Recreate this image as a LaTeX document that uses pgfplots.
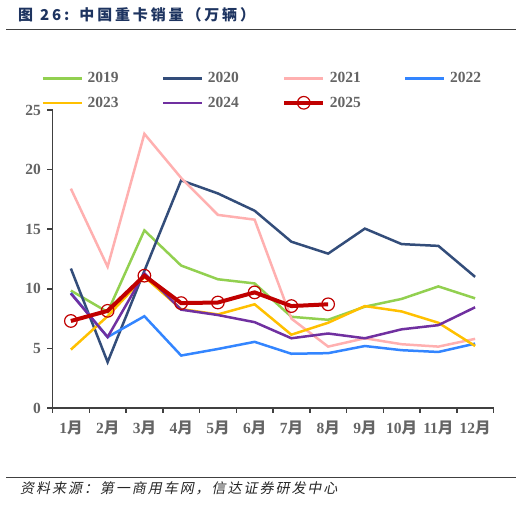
\documentclass[border=0pt]{standalone}
\usepackage{pgfplots}
\pgfplotsset{compat=1.18}
\usepackage{fontspec}
\setmainfont{Liberation Serif}
\newfontfamily\cjk{Noto Sans CJK SC}
\newfontfamily\cjktitle[LetterSpace=19]{Noto Sans CJK SC}
\newfontfamily\cjksrc[FakeSlant=0.2,LetterSpace=14]{Noto Sans CJK SC}
\definecolor{c2019}{RGB}{146,208,80}
\definecolor{c2020}{RGB}{51,77,122}
\definecolor{c2021}{RGB}{255,176,176}
\definecolor{c2022}{RGB}{51,133,255}
\definecolor{c2023}{RGB}{255,192,0}
\definecolor{c2024}{RGB}{112,48,160}
\definecolor{c2025}{RGB}{192,0,0}
\definecolor{titlec}{RGB}{30,52,96}
\definecolor{tickc}{RGB}{100,100,100}
\definecolor{axisc}{RGB}{64,64,64}
\newcommand{\yue}{{\cjk\bfseries 月}}
\begin{document}
\begin{tikzpicture}[x=1pt,y=1pt]
\useasboundingbox (0,0) rectangle (522,505);
% title
\node[anchor=west,inner sep=0pt,text=titlec,font=\fontsize{15}{17}\selectfont] at (18,490) {\cjktitle\bfseries 图\hspace{7pt}26:\hspace{10pt}中国重卡销量（万辆）};
\draw[axisc,line width=1pt] (6,475) -- (516,475);
% source
\draw[axisc,line width=1pt] (6,27.3) -- (516,27.3);
\node[anchor=west,inner sep=0pt,text=black!85,font=\fontsize{14}{16}\selectfont] at (20,17) {\cjksrc 资料来源：第一商用车网，信达证券研发中心};
\begin{axis}[
  at={(52.5pt,97pt)}, anchor=south west,
  scale only axis, width=441pt, height=298pt,
  xmin=0.5, xmax=12.5, ymin=0, ymax=25,
  axis x line*=bottom, axis y line*=left,
  axis line style={axisc,line width=1.5pt,-},
  xtick={1,...,12},
  xticklabels={1\yue,2\yue,3\yue,4\yue,5\yue,6\yue,7\yue,8\yue,9\yue,10\yue,11\yue,12\yue},
  minor xtick={0.5,1.5,...,12.5},
  ytick={0,5,...,25},
  tick align=outside,
  major tick length=5pt, minor tick length=5pt,
  major x tick style={draw=none},
  tick style={axisc,line width=1.5pt},
  /pgf/number format/assume math mode=true,
  tick label style={font=\fontsize{15.5}{17}\selectfont\bfseries, text=tickc},
  yticklabel style={xshift=-3pt},
  xticklabel style={yshift=-4pt},
  legend columns=4,
  legend style={at={(-0.025,1.1259)}, anchor=north west, draw=none, fill=none, inner sep=0pt,
    font=\fontsize{15.5}{17}\selectfont\bfseries, text=tickc,
    nodes={inner sep=0pt, anchor=west},
    row sep=12pt,
    /tikz/every odd column/.style={column sep=4.5pt},
    /tikz/every even column/.style={column sep=43.3pt}},
  legend image code/.code={\draw[mark repeat=2,mark phase=2,#1] plot coordinates {(0pt,0pt) (19.5pt,0pt) (39pt,0pt)};},
  clip=false,
]
\addplot[c2019, line width=2.5pt, mark=none] coordinates {(1,9.85)(2,8.05)(3,14.9)(4,11.95)(5,10.8)(6,10.45)(7,7.65)(8,7.4)(9,8.5)(10,9.15)(11,10.2)(12,9.2)};
\addlegendentry{2019}
\addplot[c2020, line width=2.5pt, mark=none] coordinates {(1,11.7)(2,3.85)(3,11.5)(4,19.1)(5,18.0)(6,16.55)(7,13.95)(8,12.95)(9,15.05)(10,13.75)(11,13.6)(12,11.0)};
\addlegendentry{2020}
\addplot[c2021, line width=2.5pt, mark=none] coordinates {(1,18.4)(2,11.85)(3,23.0)(4,19.3)(5,16.2)(6,15.8)(7,7.5)(8,5.15)(9,5.85)(10,5.35)(11,5.15)(12,5.8)};
\addlegendentry{2021}
\addplot[c2022, line width=2.5pt, mark=none] coordinates {(1,9.65)(2,5.95)(3,7.7)(4,4.4)(5,4.95)(6,5.55)(7,4.55)(8,4.6)(9,5.2)(10,4.85)(11,4.7)(12,5.4)};
\addlegendentry{2022}
\addplot[c2023, line width=2.5pt, mark=none] coordinates {(1,4.9)(2,7.7)(3,11.0)(4,8.3)(5,7.85)(6,8.7)(7,6.15)(8,7.15)(9,8.55)(10,8.1)(11,7.15)(12,5.2)};
\addlegendentry{2023}
\addplot[c2024, line width=2.5pt, mark=none] coordinates {(1,9.6)(2,5.95)(3,11.3)(4,8.25)(5,7.8)(6,7.2)(7,5.85)(8,6.25)(9,5.85)(10,6.6)(11,6.95)(12,8.45)};
\addlegendentry{2024}
\addplot[c2025, line width=4pt, mark=o, mark size=6.3pt, mark options={c2025,line width=1.2pt,fill=none}] coordinates {(1,7.3)(2,8.15)(3,11.1)(4,8.8)(5,8.85)(6,9.7)(7,8.55)(8,8.7)};
\addlegendentry{2025}
\end{axis}
\end{tikzpicture}
\end{document}
